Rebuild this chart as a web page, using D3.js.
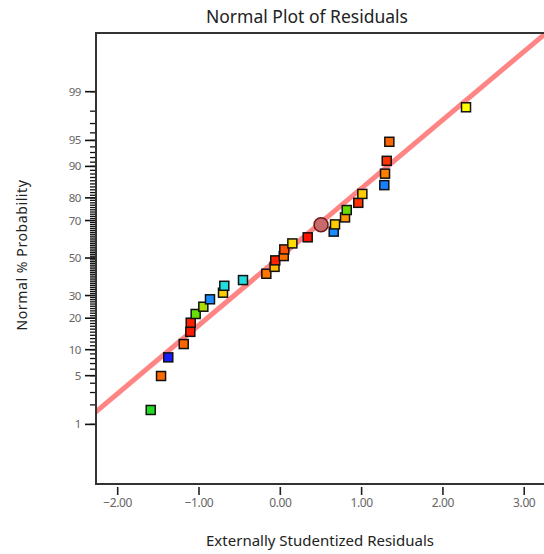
<!DOCTYPE html>
<html><head><meta charset="utf-8">
<script src="https://cdn.jsdelivr.net/npm/d3@7"></script>
<style>
html,body{margin:0;padding:0;background:#fff;}
svg{display:block;font-family:"Noto Sans","Open Sans",sans-serif;}
</style></head>
<body>
<svg id="chart" width="544" height="554"></svg>
<script>
// ---- data ----
const residuals = [-1.594,-1.467,-1.378,-1.188,-1.107,-1.102,-1.041,-0.947,-0.865,-0.705,-0.689,-0.459,-0.172,-0.071,-0.062,0.042,0.049,0.148,0.337,0.501,0.657,0.673,0.796,0.817,0.959,1.009,1.279,1.288,1.309,1.341,2.284];
const probabilities = [1.68,4.95,8.24,11.45,15.1,18.3,21.7,24.8,28.2,31.4,34.9,37.9,41.3,45.1,48.7,51.1,54.8,58.1,61.4,67.9,64.4,68.1,71.5,74.9,78.0,81.5,84.6,88.1,91.3,94.8,98.25];
const pointColors = ["#22dd22","#ff6a00","#1a1aff","#ff6600","#ff1a00","#ff2000","#66e000","#aadd00","#1a8cff","#ffcc00","#22dddd","#22dddd","#ff7700","#ffbb00","#ff2000","#ff7000","#ff5500","#ffdd00","#ff1100","#c86a6a","#1a8cff","#ffcc00","#ff9900","#66dd00","#ff3300","#ffcc00","#1a7fff","#ff8000","#ff3300","#ff6600","#ffff00"];
const highlighted = [19];
const refLineMean = -0.02;
const refLineSD = 1.045;
const yMajorTicks = [1,5,10,20,30,50,70,80,90,95,99];
const yMinorTicks = d3.range(1,100);
const xTicks = [-2,-1,0,1,2,3];
const title = "Normal Plot of Residuals";
const xTitle = "Externally Studentized Residuals";
const yTitle = "Normal % Probability";

// inverse normal CDF (Acklam)
function probit(p){
  const a=[-3.969683028665376e+01,2.209460984245205e+02,-2.759285104469687e+02,1.383577518672690e+02,-3.066479806614716e+01,2.506628277459239e+00];
  const b=[-5.447609879822406e+01,1.615858368580409e+02,-1.556989798598866e+02,6.680131188771972e+01,-1.328068155288572e+01];
  const c=[-7.784894002430293e-03,-3.223964580411365e-01,-2.400758277161838e+00,-2.549732539343734e+00,4.374664141464968e+00,2.938163982698783e+00];
  const d=[7.784695709041462e-03,3.224671290700398e-01,2.445134137142996e+00,3.754408661907416e+00];
  const pl=0.02425, ph=1-pl;
  let q,r;
  if(p<pl){q=Math.sqrt(-2*Math.log(p));return (((((c[0]*q+c[1])*q+c[2])*q+c[3])*q+c[4])*q+c[5])/((((d[0]*q+d[1])*q+d[2])*q+d[3])*q+1);}
  if(p<=ph){q=p-0.5;r=q*q;return (((((a[0]*r+a[1])*r+a[2])*r+a[3])*r+a[4])*r+a[5])*q/(((((b[0]*r+b[1])*r+b[2])*r+b[3])*r+b[4])*r+1);}
  q=Math.sqrt(-2*Math.log(1-p));return -(((((c[0]*q+c[1])*q+c[2])*q+c[3])*q+c[4])*q+c[5])/((((d[0]*q+d[1])*q+d[2])*q+d[3])*q+1);
}

const svg = d3.select("#chart");
const L=96, T=33, R=560, B=484;
const x = d3.scaleLinear().domain([-2.267,3.44]).range([L,R]);
const yz = d3.scaleLinear().domain([-3.16,3.147]).range([B,T]);
const y = pct => yz(probit(pct/100));

svg.append("defs").append("clipPath").attr("id","plotclip")
  .append("rect").attr("x",L).attr("y",T).attr("width",R-L).attr("height",B-T);

// title
svg.append("text").attr("x",307).attr("y",23).attr("text-anchor","middle")
  .attr("font-size",17.5).attr("fill","#222").text(title);

// reference line
const zs=[-4,4];
svg.append("line").attr("clip-path","url(#plotclip)")
  .attr("x1",x(refLineMean+zs[0]*refLineSD)).attr("y1",yz(zs[0]))
  .attr("x2",x(refLineMean+zs[1]*refLineSD)).attr("y2",yz(zs[1]))
  .attr("stroke","#ff6f6f").attr("stroke-width",5).attr("stroke-opacity",0.85);

// y ticks
const yAxisG = svg.append("g");
yAxisG.selectAll("line.minor").data(yMinorTicks).join("line").attr("class","minor")
  .attr("x1",L-6).attr("x2",L).attr("y1",d=>y(d)).attr("y2",d=>y(d))
  .attr("stroke","#111").attr("stroke-width",1.3);
yAxisG.selectAll("line.major").data(yMajorTicks).join("line").attr("class","major")
  .attr("x1",L-11).attr("x2",L).attr("y1",d=>y(d)).attr("y2",d=>y(d))
  .attr("stroke","#111").attr("stroke-width",1.6);
yAxisG.selectAll("text").data(yMajorTicks).join("text")
  .attr("x",L-15).attr("y",d=>y(d)).attr("dy","0.35em").attr("text-anchor","end")
  .attr("font-size",11.5).attr("fill","#666").attr("letter-spacing","-0.4").text(d=>d);

// x ticks
const xAxisG = svg.append("g");
xAxisG.selectAll("line").data(xTicks).join("line")
  .attr("x1",d=>x(d)).attr("x2",d=>x(d)).attr("y1",B+3).attr("y2",B+11)
  .attr("stroke","#222").attr("stroke-width",1.6);
xAxisG.selectAll("text").data(xTicks).join("text")
  .attr("x",d=>x(d)).attr("y",B+23).attr("text-anchor","middle")
  .attr("font-size",12).attr("fill","#666").attr("letter-spacing","-0.4").text(d=>d3.format(".2f")(d));

// frame
svg.append("rect").attr("x",L).attr("y",T).attr("width",R-L).attr("height",B-T)
  .attr("fill","none").attr("stroke","#333").attr("stroke-width",2);

// axis titles
svg.append("text").attr("x",320).attr("y",546).attr("text-anchor","middle")
  .attr("font-size",15).attr("fill","#222").text(xTitle);
svg.append("text").attr("transform","translate(27,255) rotate(-90)").attr("text-anchor","middle")
  .attr("font-size",14).attr("fill","#222").attr("letter-spacing","0.6").text(yTitle);

// points
const pts = residuals.map((r,i)=>({r,p:probabilities[i],c:pointColors[i],hl:highlighted.includes(i)}));
const s=9;
svg.append("g").selectAll("rect").data(pts.filter(d=>!d.hl)).join("rect")
  .attr("x",d=>x(d.r)-s/2).attr("y",d=>y(d.p)-s/2).attr("width",s).attr("height",s)
  .attr("fill",d=>d.c).attr("stroke","#111").attr("stroke-width",1.5);
svg.append("g").selectAll("circle").data(pts.filter(d=>d.hl)).join("circle")
  .attr("cx",d=>x(d.r)).attr("cy",d=>y(d.p)).attr("r",7)
  .attr("fill",d=>d.c).attr("stroke","#6a1a1a").attr("stroke-width",1.5);
</script>
</body></html>
